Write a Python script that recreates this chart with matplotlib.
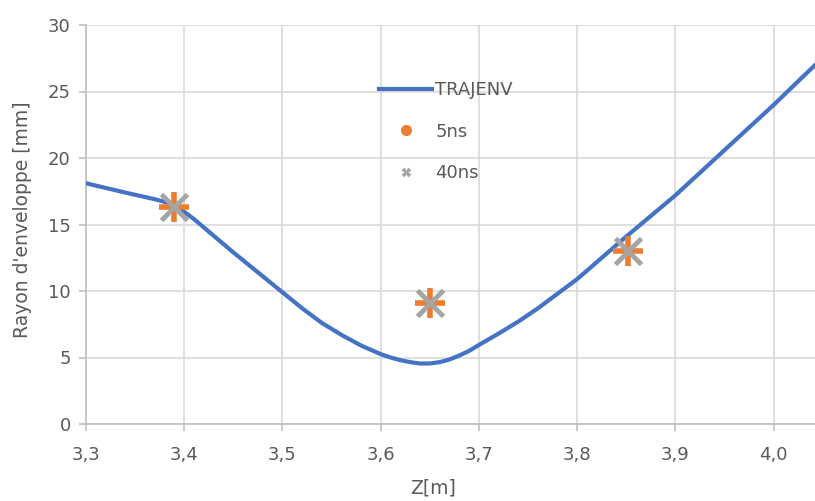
import matplotlib
matplotlib.use('Agg')
import matplotlib.pyplot as plt
from matplotlib.lines import Line2D
from matplotlib.ticker import FuncFormatter

# envelope curve
z_traj = [3.30, 3.34, 3.37, 3.39, 3.41, 3.45, 3.50, 3.52, 3.54, 3.56, 3.58, 3.60,
          3.61, 3.62, 3.63, 3.64, 3.65, 3.66, 3.67, 3.68, 3.69, 3.70, 3.72, 3.74,
          3.76, 3.78, 3.80, 3.85, 3.90, 3.95, 4.00, 4.045]
r_traj = [18.1, 17.4, 16.9, 16.5, 15.4, 12.9, 9.9, 8.7, 7.6, 6.7, 5.9, 5.25,
          5.0, 4.8, 4.65, 4.55, 4.55, 4.65, 4.85, 5.15, 5.5, 5.95, 6.8, 7.7,
          8.7, 9.8, 10.9, 14.1, 17.2, 20.6, 24.0, 27.2]

z_5ns = [3.39, 3.65, 3.852]
r_5ns = [16.3, 9.1, 13.0]
z_40ns = [3.39, 3.65, 3.852]
r_40ns = [16.3, 9.1, 13.0]

xticks = [3.3, 3.4, 3.5, 3.6, 3.7, 3.8, 3.9, 4.0]
yticks = [0, 5, 10, 15, 20, 25, 30]

blue = '#4472C4'
orange = '#ED7D31'
grey = '#A5A5A5'
txt = '#595959'

plt.rcParams['font.family'] = ['DejaVu Sans']

fig = plt.figure(figsize=(8.15, 5.01), dpi=100)
ax = fig.add_axes([86 / 815, 77 / 501, 729 / 815, 399 / 501])

ax.plot(z_traj, r_traj, color=blue, lw=3, solid_capstyle='round',
        solid_joinstyle='round', zorder=3)
ax.plot(z_5ns, r_5ns, ls='none', marker='+', ms=21, mew=4, color=orange, zorder=4)
ax.plot(z_40ns, r_40ns, ls='none', marker='x', ms=19, mew=3.5, color=grey, zorder=5)

ax.set_xlim(3.3, 4.042)
ax.set_ylim(0, 30)
ax.set_xticks(xticks)
ax.set_yticks(yticks)
ax.xaxis.set_major_formatter(FuncFormatter(lambda v, p: f'{v:.1f}'.replace('.', ',')))
ax.grid(True, color='#D9D9D9', lw=1.2)
ax.set_axisbelow(True)

for s in ['top', 'right']:
    ax.spines[s].set_visible(False)
for s in ['left', 'bottom']:
    ax.spines[s].set_color('#BFBFBF')
    ax.spines[s].set_linewidth(1.2)
ax.tick_params(axis='both', colors='#BFBFBF', labelcolor=txt, labelsize=13,
               length=5, width=1.2)
ax.tick_params(axis='x', pad=11)
ax.tick_params(axis='y', pad=6)

# label positions in axes coords (axes spans px 86..815 x, 25..424 y)
ax.set_xlabel('Z[m]', color=txt, fontsize=13.5)
ax.xaxis.set_label_coords((433 - 86) / 729, -(488 - 424) / 399)
ax.xaxis.label.set_va('center')
ax.set_ylabel("Rayon d'enveloppe [mm]", color=txt, fontsize=13.5)
ax.yaxis.set_label_coords(-(86 - 22) / 729, (424 - 220) / 399)
ax.yaxis.label.set_va('center')

handles = [
    Line2D([], [], color=blue, lw=3),
    Line2D([], [], ls='none', marker='o', ms=7, color=orange),
    Line2D([], [], ls='none', marker='X', ms=7, color=grey, mec='none'),
]
leg = ax.legend(handles, ['TRAJENV', '5ns', '40ns'], frameon=False,
                loc='upper left', bbox_to_anchor=((380 - 86) / 729 - 0.023, 0.9),
                fontsize=13, handlelength=2.9, handletextpad=0.2, labelspacing=1.3)
for t in leg.get_texts():
    t.set_color(txt)

fig.savefig('out.png', dpi=100)
